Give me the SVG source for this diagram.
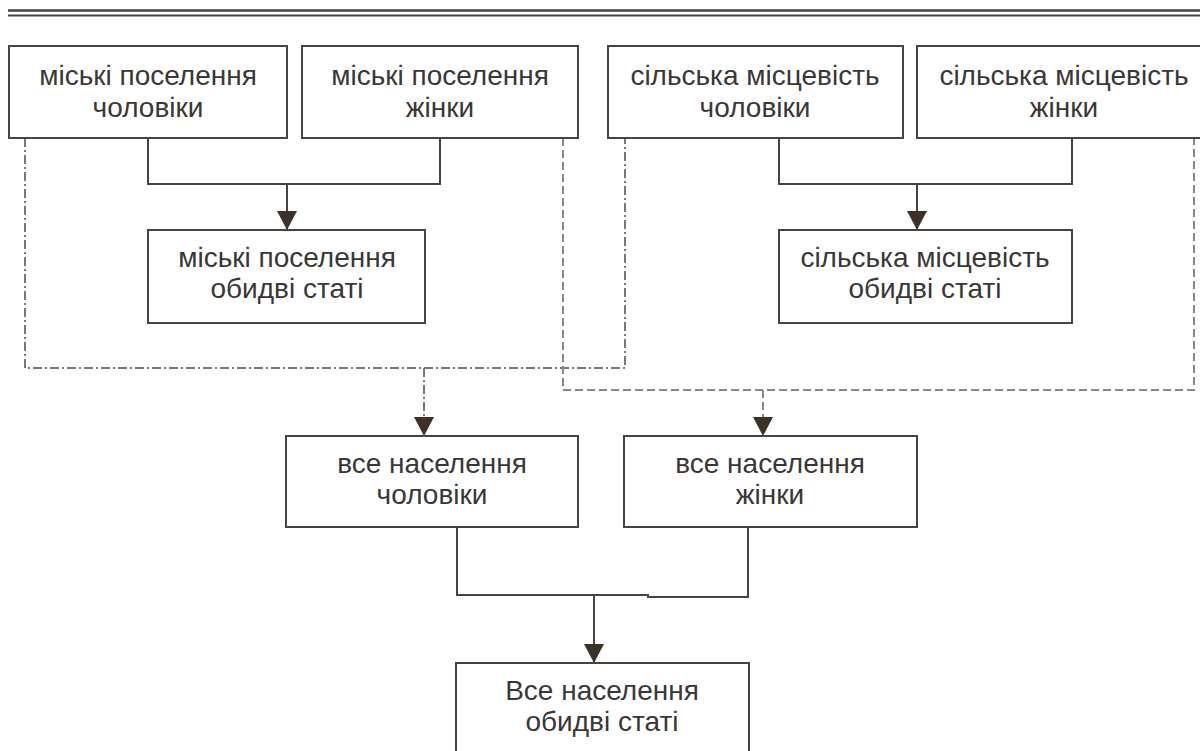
<svg xmlns="http://www.w3.org/2000/svg" width="1200" height="751" viewBox="0 0 1200 751">
<style>
.box{fill:#fff;stroke:#4a433d;stroke-width:2}
.t{font-family:"Liberation Sans",Arial,sans-serif;font-size:28px;fill:#3a3735;text-anchor:middle}
.c{fill:none;stroke:#4a433d;stroke-width:2}
.dd{fill:none;stroke:#7a7672;stroke-width:2;stroke-dasharray:9 3 2 3}
.ds{fill:none;stroke:#8a8682;stroke-width:2;stroke-dasharray:8 4}
.rule{stroke:#444;fill:none}
</style>
<defs>
<marker id="ah" viewBox="0 0 19 20" refX="19" refY="10" markerWidth="19" markerHeight="20" markerUnits="userSpaceOnUse" orient="auto">
<path d="M0,0 L19,10 L0,20 z" fill="#3e3126"/>
</marker>
</defs>
<rect width="1200" height="751" fill="#fff"/>
<g id="rule">
<line class="rule" x1="8" y1="10.5" x2="1200" y2="10.5" stroke-width="2.5"/>
<line class="rule" x1="8" y1="15.5" x2="1200" y2="15.5" stroke-width="2"/>
</g>
<g id="connectors">
<path class="c" d="M148,138 V184 H440 V138"/>
<path class="c" d="M287,184 V230" marker-end="url(#ah)"/>
<path class="c" d="M779,138 V184 H1072 V138"/>
<path class="c" d="M917,184 V230" marker-end="url(#ah)"/>
<path class="dd" d="M25,138 V368 H625 V138"/>
<path class="dd" d="M424,368 V436" marker-end="url(#ah)"/>
<path class="ds" d="M563,138 V390 H1194 V138"/>
<path class="ds" d="M763,390 V436" marker-end="url(#ah)"/>
<path class="c" d="M457,527 V595 H648 V597 H748 V527"/>
<path class="c" d="M594,595 V663" marker-end="url(#ah)"/>
</g>
<g id="n1"><rect class="box" x="9" y="46" width="278" height="92"/><text class="t" x="148" y="85">міські поселення</text><text class="t" x="148" y="117">чоловіки</text></g>
<g id="n2"><rect class="box" x="302" y="46" width="276" height="92"/><text class="t" x="440" y="85">міські поселення</text><text class="t" x="440" y="117">жінки</text></g>
<g id="n3"><rect class="box" x="608" y="46" width="295" height="92"/><text class="t" x="755" y="85">сільська місцевість</text><text class="t" x="755" y="117">чоловіки</text></g>
<g id="n4"><rect class="box" x="917" y="46" width="296" height="92"/><text class="t" x="1064" y="85">сільська місцевість</text><text class="t" x="1064" y="117">жінки</text></g>
<g id="n5"><rect class="box" x="148" y="230" width="277" height="93"/><text class="t" x="287" y="267">міські поселення</text><text class="t" x="287" y="298">обидві статі</text></g>
<g id="n6"><rect class="box" x="779" y="230" width="293" height="93"/><text class="t" x="925" y="267">сільська місцевість</text><text class="t" x="925" y="298">обидві статі</text></g>
<g id="n7"><rect class="box" x="286" y="436" width="292" height="91"/><text class="t" x="432" y="473">все населення</text><text class="t" x="432" y="504">чоловіки</text></g>
<g id="n8"><rect class="box" x="624" y="436" width="293" height="91"/><text class="t" x="770" y="473">все населення</text><text class="t" x="770" y="504">жінки</text></g>
<g id="n9"><rect class="box" x="456" y="663" width="293" height="100"/><text class="t" x="602" y="700">Все населення</text><text class="t" x="602" y="731">обидві статі</text></g>
</svg>
